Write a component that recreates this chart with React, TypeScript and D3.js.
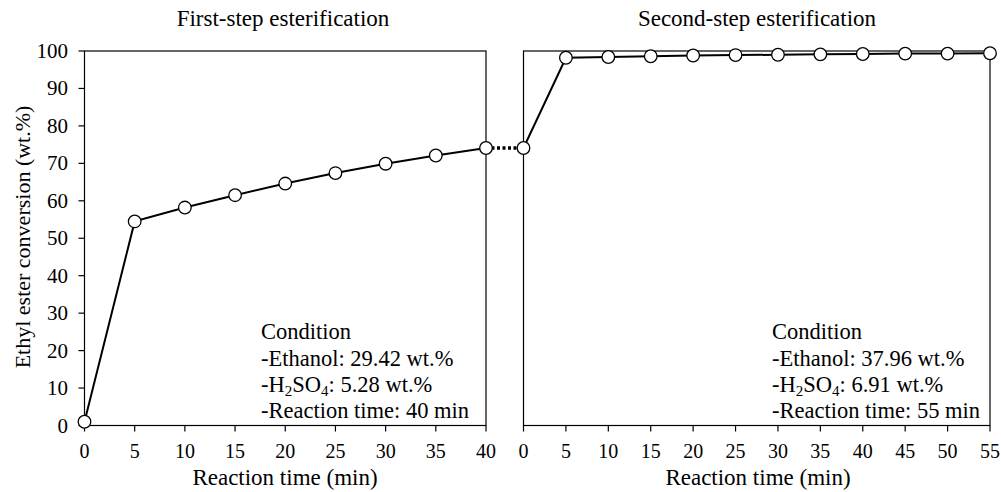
import React from "react";
import * as d3 from "d3";

const timeFirst = [0, 5, 10, 15, 20, 25, 30, 35, 40];
const convFirst = [1, 54.5, 58.2, 61.5, 64.6, 67.4, 69.9, 72.1, 74.1];
const timeSecond = [0, 5, 10, 15, 20, 25, 30, 35, 40, 45, 50, 55];
const convSecond = [74.1, 98.2, 98.4, 98.6, 98.8, 98.9, 99.0, 99.1, 99.2, 99.3, 99.3, 99.4];
const yTicks = [0, 10, 20, 30, 40, 50, 60, 70, 80, 90, 100];
const xTicksFirst = [0, 5, 10, 15, 20, 25, 30, 35, 40];
const xTicksSecond = [0, 5, 10, 15, 20, 25, 30, 35, 40, 45, 50, 55];
const titles = ["First-step esterification", "Second-step esterification"];
const condFirst = ["29.42", "5.28", "40"];
const condSecond = ["37.96", "6.91", "55"];

const FONT = "'Liberation Serif', 'Times New Roman', serif";

export default function App() {
  const W = 1001, H = 492;
  const top = 51, bottom = 425.5;
  const y = d3.scaleLinear().domain([0, 100]).range([bottom, top]);
  const x1 = d3.scaleLinear().domain([0, 40]).range([84.5, 486]);
  const x2 = d3.scaleLinear().domain([0, 55]).range([523.5, 990]);
  const line1 = d3.line<number>().x((_, i) => x1(timeFirst[i])).y((d) => y(d));
  const line2 = d3.line<number>().x((_, i) => x2(timeSecond[i])).y((d) => y(d));

  const panel = (x: d3.ScaleLinear<number, number>, ticks: number[], showY: boolean) => (
    <g>
      <rect x={x.range()[0]} y={top} width={x.range()[1] - x.range()[0]} height={bottom - top}
        fill="none" stroke="#000" strokeWidth={1.2} />
      {ticks.map((t) => (
        <g key={t}>
          <line x1={x(t)} x2={x(t)} y1={bottom} y2={bottom + 6} stroke="#000" strokeWidth={1.2} />
          <text x={x(t)} y={458} textAnchor="middle" fontSize={20} fontFamily={FONT}>{t}</text>
        </g>
      ))}
      {showY && yTicks.map((t) => (
        <g key={t}>
          <line x1={x.range()[0] - 6} x2={x.range()[0]} y1={y(t)} y2={y(t)} stroke="#000" strokeWidth={1.2} />
          <text x={68} y={y(t) + 7} textAnchor="end" fontSize={21} fontFamily={FONT}>{t}</text>
        </g>
      ))}
    </g>
  );

  const cond = (x0: number, vals: string[]) => (
    <g fontFamily={FONT} fontSize={22.5}>
      <text x={x0} y={339}>Condition</text>
      <text x={x0} y={366}>-Ethanol: {vals[0]} wt.%</text>
      <text x={x0} y={392}>-H<tspan fontSize={15} dy={4}>2</tspan><tspan dy={-4}>SO</tspan><tspan fontSize={15} dy={4}>4</tspan><tspan dy={-4}>: {vals[1]} wt.%</tspan></text>
      <text x={x0} y={418}>-Reaction time: {vals[2]} min</text>
    </g>
  );

  return (
    <svg width={W} height={H} style={{ display: "block", position: "absolute", left: 0, top: 0, background: "#fff" }}>
      <rect width={W} height={H} fill="#fff" />
      <text x={283} y={26} textAnchor="middle" fontSize={23} fontFamily={FONT}>{titles[0]}</text>
      <text x={757} y={26} textAnchor="middle" fontSize={23} fontFamily={FONT}>{titles[1]}</text>
      {panel(x1, xTicksFirst, true)}
      {panel(x2, xTicksSecond, false)}
      <text transform={`translate(30,${237}) rotate(-90)`} textAnchor="middle" fontSize={22} fontFamily={FONT}>
        Ethyl ester conversion (wt.%)
      </text>
      <text x={285} y={485} textAnchor="middle" fontSize={23} fontFamily={FONT}>Reaction time (min)</text>
      <text x={758} y={485} textAnchor="middle" fontSize={23} fontFamily={FONT}>Reaction time (min)</text>
      {cond(261, condFirst)}
      {cond(772, condSecond)}
      <line x1={x1(40)} x2={x2(0)} y1={y(convFirst[8])} y2={y(convSecond[0])} stroke="#000" strokeWidth={3.5} strokeDasharray="3,2.5" />
      <path d={line1(convFirst) || ""} fill="none" stroke="#000" strokeWidth={2} />
      <path d={line2(convSecond) || ""} fill="none" stroke="#000" strokeWidth={2} />
      {convFirst.map((v, i) => (
        <circle key={"a" + i} cx={x1(timeFirst[i])} cy={y(v)} r={6.3} fill="#fff" stroke="#000" strokeWidth={1.3} />
      ))}
      {convSecond.map((v, i) => (
        <circle key={"b" + i} cx={x2(timeSecond[i])} cy={y(v)} r={6.3} fill="#fff" stroke="#000" strokeWidth={1.3} />
      ))}
    </svg>
  );
}
